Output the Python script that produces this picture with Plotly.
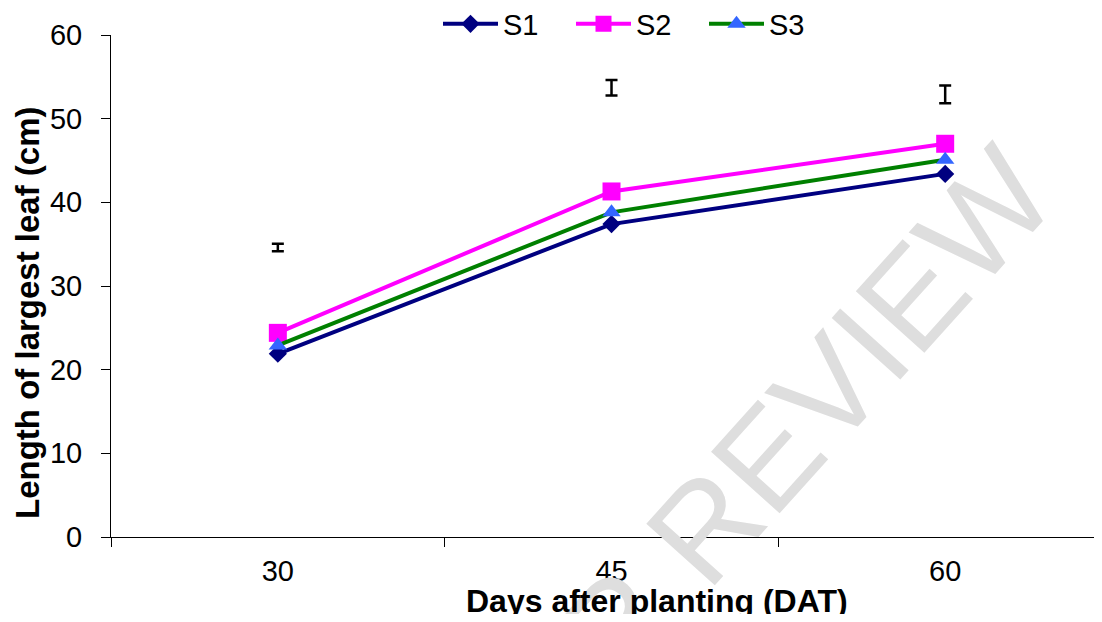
import plotly.graph_objects as go

days = ["30", "45", "60"]
s1 = [21.9, 37.4, 43.4]
s2 = [24.4, 41.3, 47.0]
s3 = [22.9, 38.8, 45.1]
lsd_pos = [34.6, 53.7, 52.9]
lsd_half = [0.44, 0.93, 1.05]
y_ticks = [0, 10, 20, 30, 40, 50, 60]

FONT = "Arial, Liberation Sans, sans-serif"

# page has an 8px body margin; work in figure coordinates
W, H = 1094, 606
L, T, B = 103, 27, 529          # plot area edges (figure px)
PW, PH = W - L, B - T


def px(x):
    return (x - L) / PW


def py(y):
    return (B - y) / PH


fig = go.Figure()
fig.add_trace(go.Scatter(
    x=days, y=s1, name="S1", mode="lines+markers",
    line=dict(color="#000080", width=4),
    marker=dict(symbol="diamond", size=14, color="#000080"),
))
fig.add_trace(go.Scatter(
    x=days, y=s2, name="S2", mode="lines+markers",
    line=dict(color="#FF00FF", width=4),
    marker=dict(symbol="square", size=18, color="#FF00FF"),
))
fig.add_trace(go.Scatter(
    x=days, y=s3, name="S3", mode="lines+markers",
    line=dict(color="#008000", width=4),
    marker=dict(symbol="triangle-up", size=16, color="#3366FF"),
))
fig.add_trace(go.Scatter(
    x=days, y=lsd_pos, mode="markers", showlegend=False,
    marker=dict(size=1, color="rgba(0,0,0,0)"),
    error_y=dict(type="data", array=lsd_half, color="black", thickness=2.5, width=6),
    hoverinfo="skip",
))

fig.add_annotation(
    text="UNDER PEER REVIEW", xref="paper", yref="paper",
    x=px(535), y=py(698),
    xanchor="center", yanchor="middle", textangle=-48, showarrow=False,
    font=dict(family=FONT, size=134, color="#dedede"),
)

fig.update_layout(
    width=W, height=H,
    margin=dict(l=L, r=0, t=T, b=H - B, pad=0, autoexpand=False),
    paper_bgcolor="white", plot_bgcolor="white",
    font=dict(family=FONT, size=29, color="black"),
    showlegend=True,
    legend=dict(
        orientation="h", x=px(430), xanchor="left",
        y=py(16), yanchor="middle",
        font=dict(size=29), itemwidth=55, entrywidth=63,
        bgcolor="rgba(0,0,0,0)", tracegroupgap=0,
    ),
    xaxis=dict(
        type="category", range=[-0.5, 2.47],
        showline=True, linecolor="black", linewidth=1,
        ticks="outside", ticklen=9, tickcolor="black", tickson="boundaries",
        showgrid=False, zeroline=False,
        tickfont=dict(size=29), ticklabelstandoff=8,
    ),
    yaxis=dict(
        range=[0, 60], tickvals=y_ticks,
        showline=True, linecolor="black", linewidth=1,
        ticks="outside", ticklen=9, tickcolor="black",
        showgrid=False, zeroline=False,
        tickfont=dict(size=29), ticklabelstandoff=13,
    ),
)

fig.add_annotation(
    text="<b>Days after planting (DAT)</b>", xref="paper", yref="paper",
    x=px(649), y=py(593), xanchor="center", yanchor="middle",
    showarrow=False, font=dict(family=FONT, size=32),
)
fig.add_annotation(
    text="<b>Length of largest leaf (cm)</b>", xref="paper", yref="paper",
    x=px(19), y=py(305), xanchor="center", yanchor="middle",
    textangle=-90, showarrow=False, font=dict(family=FONT, size=33),
)

fig.write_html("out.html")
